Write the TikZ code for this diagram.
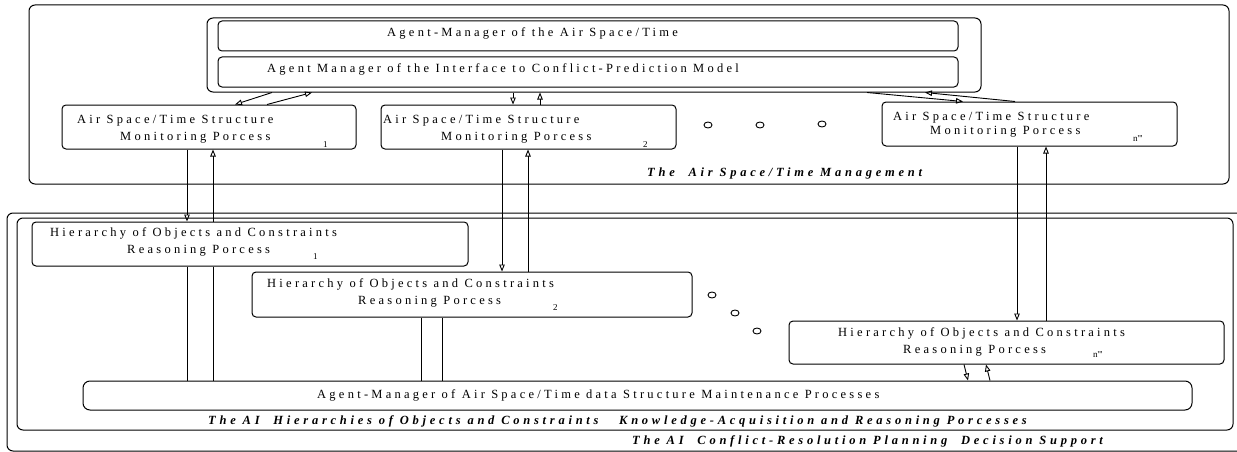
\documentclass[tikz,border=0pt]{standalone}
\usepackage{fontspec}
\setmainfont{Liberation Serif}
\newfontfamily\tf[LetterSpace=26]{Liberation Serif}
\newfontfamily\cf[LetterSpace=30]{Liberation Serif}
\usetikzlibrary{arrows.meta,shapes.geometric}
\begin{document}
\begin{tikzpicture}[x=1pt,y=-1pt,
  bx/.style={draw,line width=1pt,rounded corners=4pt,inner sep=0pt},
  lbl/.style={anchor=base west,inner sep=0pt,font=\tf\fontsize{12.5}{14}\selectfont},
  capt/.style={anchor=base west,inner sep=0pt,font=\cf\fontsize{12.5}{14}\selectfont\bfseries\itshape},
  sub/.style={anchor=base west,inner sep=0pt,font=\tf\fontsize{9}{10}\selectfont},
  ln/.style={line width=0.9pt},
  arr/.style={line width=0.9pt,-{Triangle[open,length=7pt,width=5.5pt]}},
  dot/.style={draw,line width=0.9pt,ellipse,minimum width=8pt,minimum height=6pt,inner sep=0pt}]
\clip (0,0) rectangle (1237,452);
\fill[white] (0,0) rectangle (1237,452);
% containers
\node[bx,rounded corners=6pt,minimum width=1200pt,minimum height=179pt] (top) at (629,94.5) {};
\node[bx,rounded corners=6pt,minimum width=1253pt,minimum height=238pt] (bottom) at (633.5,332) {};
\node[bx,rounded corners=6pt,minimum width=1216pt,minimum height=212pt] (hierarea) at (625,324) {};
\node[bx,rounded corners=6pt,minimum width=774pt,minimum height=74pt] (mgr) at (594,55) {};
\node[bx,minimum width=740pt,minimum height=30pt] (mgra) at (588,36) {};
\node[bx,minimum width=740pt,minimum height=30pt] (mgrb) at (588,72) {};
% monitoring boxes
\node[bx,minimum width=294pt,minimum height=44pt] (mon1) at (209,127) {};
\node[bx,minimum width=295pt,minimum height=44pt] (mon2) at (528.5,127) {};
\node[bx,minimum width=295pt,minimum height=44pt] (mon3) at (1029.5,124) {};
% hierarchy boxes
\node[bx,minimum width=436pt,minimum height=44pt] (hier1) at (250,244) {};
\node[bx,minimum width=440pt,minimum height=45pt] (hier2) at (472,294.5) {};
\node[bx,minimum width=435pt,minimum height=43pt] (hier3) at (1006.5,342.5) {};
\node[bx,rounded corners=7pt,minimum width=1109pt,minimum height=29pt] (maint) at (637.5,395.5) {};
% texts
\node[lbl] (t1) at (387,37) {Agent-Manager of the Air Space/Time};
\node[lbl] (t2) at (267,73) {Agent Manager of the Interface to Conflict-Prediction Model};
\node[lbl] (m1a) at (77,123.5) {Air Space/Time Structure};
\node[lbl] (m1b) at (120,140.5) {Monitoring Porcess};
\node[sub] (m1c) at (323,147) {1};
\node[lbl] (m2a) at (383,123.5) {Air Space/Time Structure};
\node[lbl] (m2b) at (441,140.5) {Monitoring Porcess};
\node[sub] (m2c) at (643,147) {2};
\node[lbl] (m3a) at (893,120) {Air Space/Time Structure};
\node[lbl] (m3b) at (930,134.5) {Monitoring Porcess};
\node[sub] (m3c) at (1133,141) {n\textquotesingle\textquotesingle\textquotesingle};
\node[capt] (c1) at (647,176.5) {The \ Air Space/Time Management};
\node[lbl] (h1a) at (50,236) {Hierarchy of Objects and Constraints};
\node[lbl] (h1b) at (127,253) {Reasoning Porcess};
\node[sub] (h1c) at (313,259) {1};
\node[lbl] (h2a) at (267,287.5) {Hierarchy of Objects and Constraints};
\node[lbl] (h2b) at (358,304.5) {Reasoning Porcess};
\node[sub] (h2c) at (553,310) {2};
\node[lbl] (h3a) at (838,336.5) {Hierarchy of Objects and Constraints};
\node[lbl] (h3b) at (903,353.5) {Reasoning Porcess};
\node[sub] (h3c) at (1093,357.5) {n\textquotesingle\textquotesingle\textquotesingle};
\node[lbl] (mt) at (317,398.5) {Agent-Manager of Air Space/Time data Structure Maintenance Processes};
\node[capt] (c2) at (208,424.5) {The AI \ Hierarchies of Objects and Constraints \ \ Knowledge-Acquisition and Reasoning Porcesses};
\node[capt] (c3) at (632,444.5) {The AI \ Conflict-Resolution Planning \ Decision Support};
% ellipsis dots
\node[dot] (d1) at (708,125) {};
\node[dot] (d2) at (760,125) {};
\node[dot] (d3) at (822,124) {};
\node[dot] (d4) at (712,295) {};
\node[dot] (d5) at (735,313) {};
\node[dot] (d6) at (757,331) {};
% manager <-> monitoring
\draw[arr] ([xshift=-322pt]mgr.south) -- ([xshift=26pt]mon1.north);
\draw[arr] ([xshift=58pt]mon1.north) -- ([xshift=-282pt]mgr.south);
\draw[arr] ([xshift=-81pt]mgr.south) -- ([xshift=-15.5pt]mon2.north);
\draw[arr] ([xshift=11.5pt]mon2.north) -- ([xshift=-54pt]mgr.south);
\draw[arr] ([xshift=273pt]mgr.south) -- ([xshift=-66.5pt]mon3.north);
\draw[arr] ([xshift=-14.5pt]mon3.north) -- ([xshift=331pt]mgr.south);
% monitoring <-> hierarchy
\draw[arr] ([xshift=-22pt]mon1.south) -- ([xshift=-63pt]hier1.north);
\draw[arr] ([xshift=-37pt]hier1.north) -- ([xshift=4pt]mon1.south);
\draw[arr] ([xshift=-26.5pt]mon2.south) -- ([xshift=30pt]hier2.north);
\draw[arr] ([xshift=56pt]hier2.north) -- ([xshift=-0.5pt]mon2.south);
\draw[arr] ([xshift=-12.5pt]mon3.south) -- ([xshift=10.5pt]hier3.north);
\draw[arr] ([xshift=39.5pt]hier3.north) -- ([xshift=16.5pt]mon3.south);
% hierarchy <-> maintenance
\draw[ln] ([xshift=-63pt]hier1.south) -- ([xshift=-450.5pt]maint.north);
\draw[ln] ([xshift=-37pt]hier1.south) -- ([xshift=-424.5pt]maint.north);
\draw[ln] ([xshift=-51pt]hier2.south) -- ([xshift=-216.5pt]maint.north);
\draw[ln] ([xshift=-30pt]hier2.south) -- ([xshift=-195.5pt]maint.north);
\draw[arr] ([xshift=-42.5pt]hier3.south) -- ([xshift=330.5pt]maint.north);
\draw[arr] ([xshift=352.5pt]maint.north) -- ([xshift=-20.5pt]hier3.south);
\end{tikzpicture}
\end{document}
